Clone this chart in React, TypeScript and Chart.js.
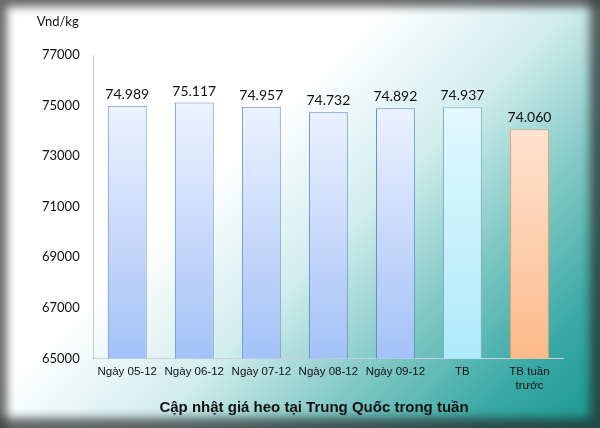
import React, { useEffect, useRef } from "react";
import { Chart, registerables } from "chart.js";

Chart.register(...registerables);

const categories: (string | string[])[] = [
  "Ngày 05-12",
  "Ngày 06-12",
  "Ngày 07-12",
  "Ngày 08-12",
  "Ngày 09-12",
  "TB",
  ["TB tuần", "trước"],
];
const prices = [74989, 75117, 74957, 74732, 74892, 74937, 74060];
const yTicks = [65000, 67000, 69000, 71000, 73000, 75000, 77000];
const unitLabel = "Vnd/kg";
const chartTitle = "Cập nhật giá heo tại Trung Quốc trong tuần";

const palette = [
  { top: "#eef4ff", bottom: "#a4c1f7", border: "#5f86c6" },
  { top: "#eef4ff", bottom: "#a4c1f7", border: "#5f86c6" },
  { top: "#eef4ff", bottom: "#a4c1f7", border: "#5f86c6" },
  { top: "#eef4ff", bottom: "#a4c1f7", border: "#5f86c6" },
  { top: "#eef4ff", bottom: "#a4c1f7", border: "#5f86c6" },
  { top: "#e4f9ff", bottom: "#aeeaf9", border: "#7fb2be" },
  { top: "#ffe8da", bottom: "#fcba8a", border: "#f0a062" },
];

function fmt(v: number) {
  return v.toLocaleString("de-DE");
}

export default function App() {
  const ref = useRef<HTMLCanvasElement | null>(null);

  useEffect(() => {
    if (!ref.current) return;
    const labelPlugin = {
      id: "valueLabels",
      afterDatasetsDraw(chart: any) {
        const ctx = chart.ctx;
        const meta = chart.getDatasetMeta(0);
        ctx.save();
        ctx.font = "14px Lato";
        ctx.fillStyle = "#111";
        ctx.textAlign = "center";
        ctx.textBaseline = "alphabetic";
        meta.data.forEach((bar: any, i: number) => {
          ctx.fillText(fmt(prices[i]), bar.x, bar.y - 7);
        });
        ctx.font = "13px Lato";
        ctx.textAlign = "right";
        ctx.textBaseline = "middle";
        ctx.fillText(unitLabel, chart.chartArea.left - 15, 22);
        ctx.font = "bold 15px 'Liberation Sans'";
        ctx.textAlign = "center";
        ctx.fillText(chartTitle, 314, 408);
        ctx.restore();
      },
    };

    const chart = new Chart(ref.current, {
      type: "bar",
      data: {
        labels: categories,
        datasets: [
          {
            data: prices,
            backgroundColor: (c: any) => {
              const ch = c.chart;
              const area = ch.chartArea;
              const p = palette[c.dataIndex] || palette[0];
              if (!area) return p.bottom;
              const ys = ch.scales.y;
              const g = ch.ctx.createLinearGradient(0, ys.getPixelForValue(75200), 0, area.bottom);
              g.addColorStop(0, p.top);
              g.addColorStop(1, p.bottom);
              return g;
            },
            borderColor: palette.map((p) => p.border),
            borderWidth: 1,
            barPercentage: 0.58,
            categoryPercentage: 1,
          },
        ],
      },
      options: {
        animation: false,
        responsive: false,
        maintainAspectRatio: false,
        layout: { padding: { top: 55, right: 37, left: 28, bottom: 28 } },
        plugins: {
          legend: { display: false },
          tooltip: { enabled: false },
        },
        scales: {
          x: {
            grid: { display: false, drawTicks: false },
            border: { color: "#c8d4d4", width: 1 },
            ticks: {
              color: "#111",
              font: { family: "Liberation Sans", size: 11.5 },
              padding: 7,
              maxRotation: 0,
              autoSkip: false,
            },
          },
          y: {
            min: 65000,
            max: 77000,
            afterBuildTicks: (axis: any) => {
              axis.ticks = yTicks.map((v) => ({ value: v }));
            },
            grid: { display: false, drawTicks: false },
            border: { color: "#c8c8c8", width: 1 },
            ticks: {
              color: "#111",
              font: { family: "Lato", size: 13 },
              padding: 14,
              callback: (v: any) => String(v),
            },
          },
        },
      },
      plugins: [labelPlugin],
    } as any);
    return () => chart.destroy();
  }, []);

  return (
    <div
      style={{
        position: "fixed",
        left: 0,
        top: 0,
        width: 600,
        height: 428,
        background:
          "linear-gradient(135deg, #ffffff 0%, #ffffff 38%, #d2eded 56%, #80c8c5 72%, #3aa9a5 87%, #18988f 100%)",
        boxShadow:
          "inset 9px 9px 8px -2px rgba(60,60,60,0.75), inset -12px -12px 10px -2px rgba(40,40,40,0.7)",
      }}
    >
      <canvas ref={ref} width={600} height={428} style={{ display: "block" }} />
    </div>
  );
}
